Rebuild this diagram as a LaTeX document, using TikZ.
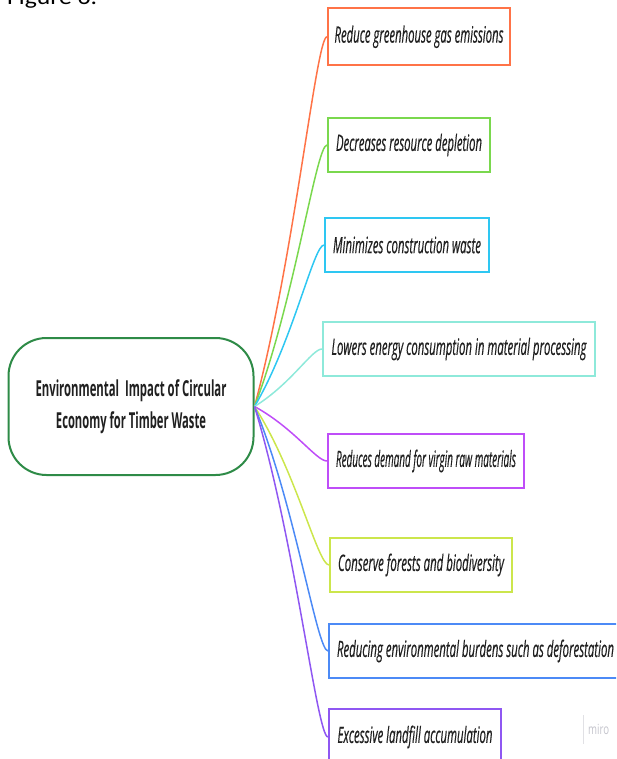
\documentclass[tikz,border=0pt]{standalone}
\usepackage{fontspec}
\setmainfont{Open Sans}
\newfontfamily\figfont{Carlito}
\newfontfamily\leaffont[FakeBold=0.6]{Open Sans}
\usetikzlibrary{calc}

\definecolor{cOrange}{HTML}{FF7347}
\definecolor{cGreen}{HTML}{7AD84E}
\definecolor{cCyan}{HTML}{2EC7F2}
\definecolor{cTeal}{HTML}{8EE9DA}
\definecolor{cPurple}{HTML}{BF4DF8}
\definecolor{cLime}{HTML}{CCE64C}
\definecolor{cBlue}{HTML}{4C8AF6}
\definecolor{cViolet}{HTML}{8F57F2}
\definecolor{cHub}{HTML}{2E8B47}
\definecolor{ink}{HTML}{202020}
\definecolor{logogray}{HTML}{C4C4CC}

% set a text at its natural height but squeezed to a given width
\newcommand{\fitw}[2]{\resizebox{#1}{\height}{#2}}

\begin{document}
\begin{tikzpicture}[x=1pt,y=-1pt,
  leaf/.style={draw=#1, line width=2pt, fill=white, anchor=north west,
    inner sep=0pt, font=\leaffont\itshape\fontsize{22.5}{26}\selectfont, text=ink},
  hubbox/.style={draw=cHub, line width=2pt, rounded corners=38pt,
    fill=white, anchor=north west, inner sep=0pt, align=center,
    font=\fontsize{22}{32}\selectfont\bfseries, text=ink},
  conn/.style={draw=#1, line width=1.5pt},
  ]
\useasboundingbox (0,0) rectangle (616,759);
\clip (0,0) rectangle (616,759);

% caption, mostly above the page edge
\node[anchor=base west, inner sep=0pt, font=\figfont\fontsize{22}{22}\selectfont, text=black]
  (fig) at (7,4.5) {\fitw{90pt}{Figure 6.}};

% central topic
\node[hubbox, minimum width=245, minimum height=137] (hub) at (7.5,337)
  {\fitw{191pt}{Environmental~ Impact of Circular}\\\fitw{150pt}{Economy for Timber Waste}};

% branches
\node[leaf=cOrange, minimum width=182, minimum height=56.5] (b1) at (327,7.5)
  {\fitw{169pt}{Reduce greenhouse gas emissions}};
\node[leaf=cGreen, minimum width=162, minimum height=54] (b2) at (327,117)
  {\fitw{146pt}{Decreases resource depletion}};
\node[leaf=cCyan, minimum width=164, minimum height=54] (b3) at (324,217)
  {\fitw{148pt}{Minimizes construction waste}};
\node[leaf=cTeal, minimum width=272, minimum height=54] (b4) at (322,321)
  {\fitw{255pt}{Lowers energy consumption in material processing}};
\node[leaf=cPurple, minimum width=196, minimum height=54] (b5) at (327,433)
  {\fitw{180pt}{Reduces demand for virgin raw materials}};
\node[leaf=cLime, minimum width=182, minimum height=54] (b6) at (329,537)
  {\fitw{166pt}{Conserve forests and biodiversity}};
\node[leaf=cBlue, minimum width=293, minimum height=54] (b7) at (328,623)
  {\fitw{277pt}{Reducing environmental burdens such as deforestation}};
\node[leaf=cViolet, minimum width=172, minimum height=56] (b8) at (328,708)
  {\fitw{155pt}{Excessive landfill accumulation}};

% connectors from the central topic to each branch
\foreach \i/\c in {1/cOrange,2/cGreen,3/cCyan,4/cTeal,5/cPurple,6/cLime,7/cBlue,8/cViolet}
  \draw[conn=\c] let \p1=(hub.east), \p2=(b\i.west) in
    (\p1) .. controls ({\x1+0.55*(\x2-\x1)},{\y1+0.4*(\y2-\y1)})
           and ({\x2-0.15*(\x2-\x1)},\y2) .. (\p2);

% watermark
\node[anchor=base west, inner sep=0pt, font=\fontsize{14}{14}\selectfont, text=logogray]
  (logo) at (588,734) {\fitw{21pt}{miro}};
\draw[logogray!50, line width=0.8pt] ($(logo.west)+(-4.5,-14)$) -- ($(logo.west)+(-4.5,15)$);
\end{tikzpicture}
\end{document}
